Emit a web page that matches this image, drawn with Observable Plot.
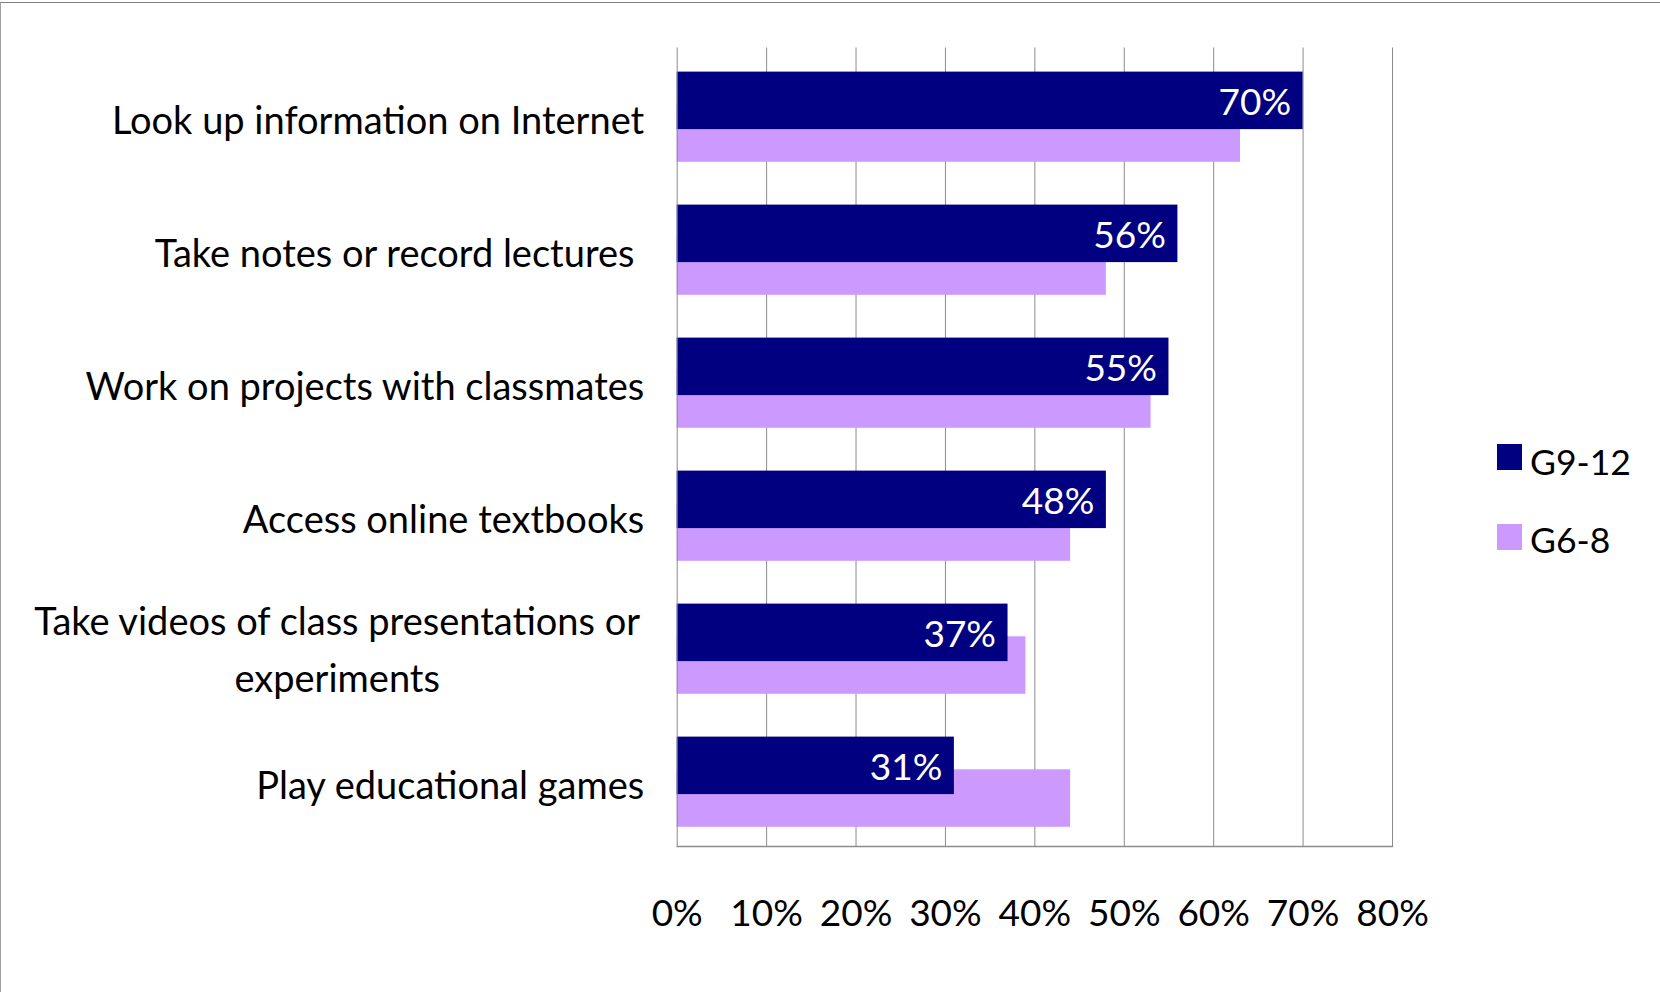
<!DOCTYPE html>
<html>
<head>
<meta charset="utf-8">
<script src="https://cdn.jsdelivr.net/npm/d3@7"></script>
<script src="https://cdn.jsdelivr.net/npm/@observablehq/plot@0.6"></script>
<style>
  html, body { margin: 0; padding: 0; background: #fff; }
  body { width: 1660px; height: 992px; position: relative; overflow: hidden; font-family: Lato, "Open Sans", sans-serif; }
  #border { position: absolute; left: 0; top: 2px; width: 1700px; height: 1100px; border-top: 1px solid #7f7f7f; border-left: 1px solid #a0a0a0; box-sizing: border-box; pointer-events: none; }
  #chart { position: absolute; left: 0; top: 0; }
  .leg { position: absolute; font-family: Lato, sans-serif; font-size: 35.5px; color: #000; line-height: 1; }
  .sw { position: absolute; width: 25px; height: 26px; }
</style>
</head>
<body>
<div id="chart"></div>
<div id="border"></div>
<div class="sw" style="left:1497px; top:444px; background:#000080"></div>
<div class="leg" style="left:1530px; top:444px">G9-12</div>
<div class="sw" style="left:1497px; top:524px; background:#cc99ff"></div>
<div class="leg" style="left:1530px; top:522px">G6-8</div>
<script>
const categories = [
  "Look up information on Internet",
  "Take notes or record lectures\u00a0",
  "Work on projects with classmates",
  "Access online textbooks",
  "Take videos of class presentations or\nexperiments",
  "Play educational games"
];
const g9_12 = [70, 56, 55, 48, 37, 31];
const g6_8 = [63, 48, 53, 44, 39, 44];
const xTicks = [0, 10, 20, 30, 40, 50, 60, 70, 80];
const seriesNames = ["G9-12", "G6-8"];
const colors = ["#000080", "#cc99ff"];

const dark = categories.map((c, i) => ({category: c, value: g9_12[i]}));
const light = categories.map((c, i) => ({category: c, value: g6_8[i]}));
const wrapped = categories.filter(c => c.includes("\n"));
const single = categories.filter(c => !c.includes("\n"));

const plot = Plot.plot({
  width: 1660,
  height: 992,
  marginLeft: 676.7,
  marginRight: 268,
  marginTop: 47.5,
  marginBottom: 146,
  style: {fontFamily: "Lato, 'Open Sans', sans-serif", fontSize: "37px", color: "#000", background: "transparent"},
  x: {domain: [0, 80]},
  y: {domain: categories, padding: 0, axis: null},
  marks: [
    Plot.gridX(xTicks.slice(1), {stroke: "#8c8c8c", strokeOpacity: 1, strokeWidth: 1}),
    Plot.barX(light, {x: "value", y: "category", fill: colors[1], insetTop: 56.3, insetBottom: 19.2}),
    Plot.barX(dark, {x: "value", y: "category", fill: colors[0], insetTop: 23.6, insetBottom: 51.9}),
    Plot.text(dark, {x: "value", y: "category", text: d => d.value + "%", fill: "#fff", textAnchor: "end", dx: -12, dy: -11.5, fontSize: 37}),
    Plot.ruleX([0], {stroke: "#8c8c8c", strokeWidth: 1}),
    Plot.frame({anchor: "bottom", stroke: "#8c8c8c", strokeWidth: 1.5}),
    Plot.text(single, {y: d => d, text: d => d, frameAnchor: "left", textAnchor: "end", dx: -33, dy: 6.5, fontSize: 38}),
    Plot.text(wrapped, {y: d => d, text: d => d, frameAnchor: "left", textAnchor: "middle", dx: -340, dy: -1.5, lineHeight: 1.5, fontSize: 38}),
    Plot.axisX(xTicks, {tickFormat: d => d + "%", tickSize: 0, tickPadding: 53, fontSize: 37, label: null})
  ]
});
document.getElementById("chart").appendChild(plot);
</script>
</body>
</html>
